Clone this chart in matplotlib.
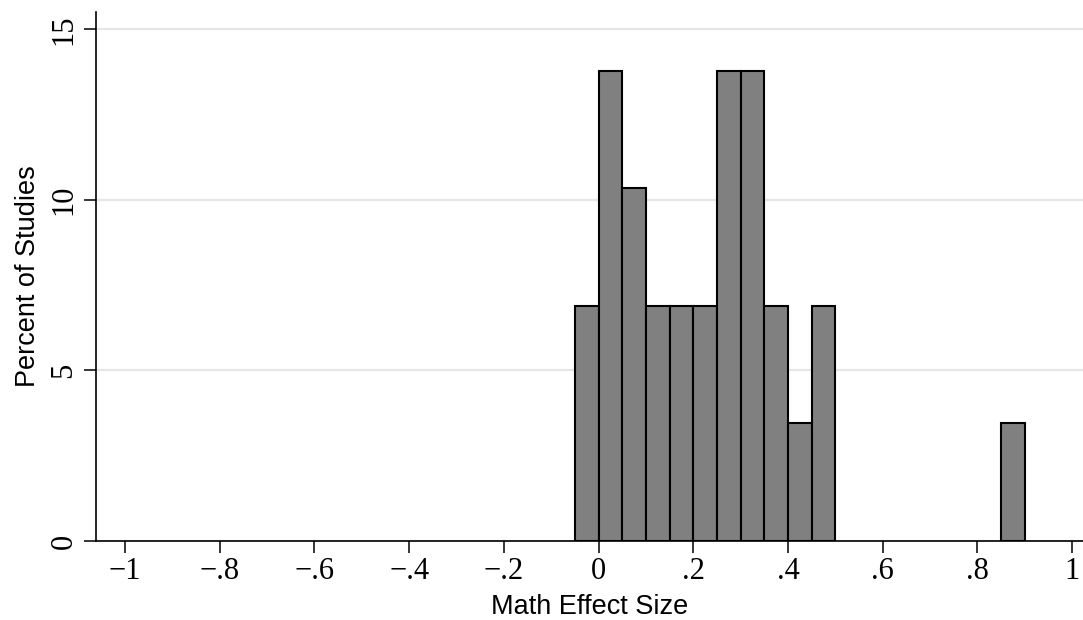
import matplotlib
matplotlib.use("Agg")
import matplotlib.pyplot as plt
import numpy as np

# histogram bins (width .05) and percent of studies in each
bin_left = [-0.05, 0.0, 0.05, 0.10, 0.15, 0.20, 0.25, 0.30, 0.35, 0.40, 0.45, 0.85]
percent = [6.897, 13.793, 10.345, 6.897, 6.897, 6.897, 13.793, 13.793, 6.897, 3.448, 6.897, 3.448]
bin_width = 0.05

x_ticks = [-1, -0.8, -0.6, -0.4, -0.2, 0, 0.2, 0.4, 0.6, 0.8, 1]
x_tick_labels = ["\u22121", "\u2212.8", "\u2212.6", "\u2212.4", "\u2212.2", "0", ".2", ".4", ".6", ".8", "1"]
y_ticks = [0, 5, 10, 15]

fig = plt.figure(figsize=(10.83, 6.2), dpi=100)
ax = fig.add_axes([0.0886, 0.1274, 0.9114, 0.8532])

ax.bar(bin_left, percent, width=bin_width, align="edge",
       color="#808080", edgecolor="black", linewidth=1.5, zorder=3)

ax.set_xlim(-1.0614, 1.023)
ax.set_ylim(0, 15.51)

ax.set_yticks(y_ticks)
ax.set_yticklabels([str(v) for v in y_ticks], rotation=90, va="center",
                   family="Liberation Serif", fontsize=22)
ax.set_xticks(x_ticks)
ax.set_xticklabels(x_tick_labels, family="Liberation Serif", fontsize=22)

ax.grid(True, axis="y", color="#e6e6e6", linewidth=1.6, zorder=0)
ax.tick_params(axis="both", length=8.5, width=1.1, color="black")
ax.tick_params(axis="y", pad=4)
ax.tick_params(axis="x", pad=3)

for side in ["top", "right"]:
    ax.spines[side].set_visible(False)
for side in ["left", "bottom"]:
    ax.spines[side].set_linewidth(1.2)

ax.set_xlabel("Math Effect Size", family="Liberation Sans", fontsize=19.5, labelpad=6)
ax.set_ylabel("Percent of Studies", family="Liberation Sans", fontsize=19.5, labelpad=6)

fig.savefig("out.png", dpi=100)
